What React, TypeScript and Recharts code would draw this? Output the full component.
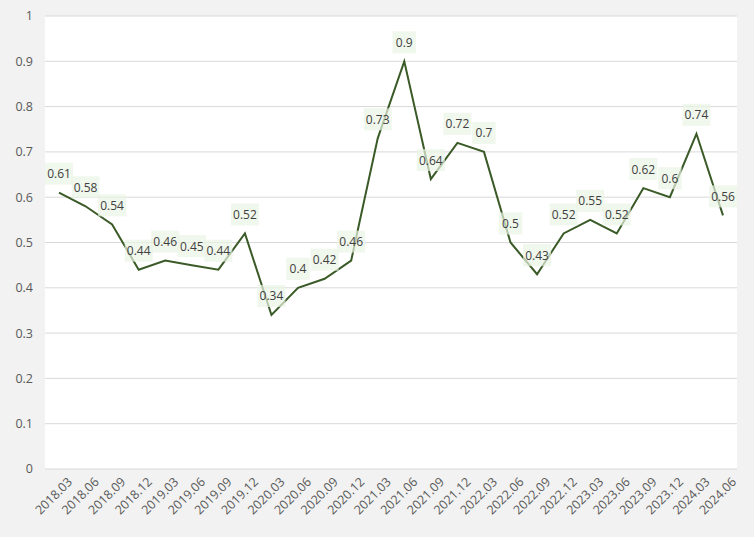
import React from 'react';
import { LineChart, Line, XAxis, YAxis, CartesianGrid, LabelList } from 'recharts';

const periods = [
    '2018.03', '2018.06', '2018.09', '2018.12', '2019.03', '2019.06', '2019.09', '2019.12',
    '2020.03', '2020.06', '2020.09', '2020.12', '2021.03', '2021.06', '2021.09', '2021.12',
    '2022.03', '2022.06', '2022.09', '2022.12', '2023.03', '2023.06', '2023.09', '2023.12',
    '2024.03', '2024.06'
];

const values = [
    0.61, 0.58, 0.54, 0.44, 0.46, 0.45, 0.44, 0.52,
    0.34, 0.4, 0.42, 0.46, 0.73, 0.9, 0.64, 0.72,
    0.7, 0.5, 0.43, 0.52, 0.55, 0.52, 0.62, 0.6,
    0.74, 0.56
];

const yTicks = [0, 0.1, 0.2, 0.3, 0.4, 0.5, 0.6, 0.7, 0.8, 0.9, 1];

const data = periods.map((p, i) => ({ period: p, value: values[i] }));

const FONT = '"Open Sans", "Noto Sans", sans-serif';
const LINE = '#3a5a27';
const TEXT = '#595959';

const XTick = ({ x, y, payload }: any) => (
    <g transform={`translate(${x},${y})`}>
        <text
            x={0}
            y={0}
            dx={6}
            dy={14}
            textAnchor="end"
            transform="rotate(-45)"
            fill={TEXT}
            fontSize={12.5}
            fontFamily={FONT}
        >
            {payload.value}
        </text>
    </g>
);

const ValueLabel = ({ x, y, value }: any) => {
    const s = String(value);
    const w = s.length * 4.5 + 10;
    return (
        <g>
            <rect x={x - w / 2} y={y - 30} width={w} height={22} fill="#eaf3e4" fillOpacity={0.7} />
            <text
                x={x}
                y={y - 19}
                textAnchor="middle"
                dominantBaseline="central"
                fill="#404040"
                fontSize={12}
                fontFamily={FONT}
            >
                {s}
            </text>
        </g>
    );
};

export default function App() {
    return (
        <div style={{ position: 'fixed', left: 0, top: 0, width: 754, height: 537, background: '#f2f2f2' }}>
            <LineChart
                width={754}
                height={537}
                data={data}
                margin={{ top: 16, right: 17, bottom: 0, left: 0 }}
            >
                <CartesianGrid vertical={false} stroke="#d9d9d9" fill="#ffffff" />
                <XAxis
                    dataKey="period"
                    height={68}
                    axisLine={false}
                    tickLine={false}
                    interval={0}
                    padding={{ left: 14, right: 14 }}
                    tick={<XTick />}
                />
                <YAxis
                    width={45}
                    domain={[0, 1]}
                    ticks={yTicks}
                    axisLine={false}
                    tickLine={false}
                    tickMargin={6}
                    tick={{ fill: TEXT, fontSize: 12.5, fontFamily: FONT }}
                />
                <Line
                    type="linear"
                    dataKey="value"
                    stroke={LINE}
                    strokeWidth={2}
                    dot={false}
                    isAnimationActive={false}
                >
                    <LabelList dataKey="value" content={<ValueLabel />} />
                </Line>
            </LineChart>
        </div>
    );
}
